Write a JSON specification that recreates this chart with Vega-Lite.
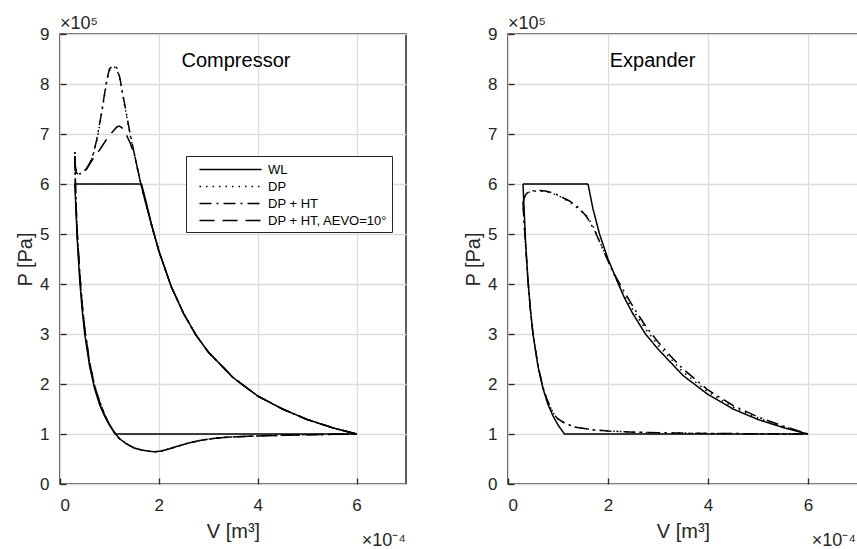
{
"$schema": "https://vega.github.io/schema/vega-lite/v6.json",
"background": "white",
"padding": {"left": 14, "top": 14, "right": 0, "bottom": 0},
"config": {
  "font": "Liberation Sans",
  "view": {"stroke": "#262626", "strokeWidth": 1.5},
  "axis": {"grid": true, "gridColor": "#dcdcdc", "gridWidth": 1.3, "domain": false, "ticks": true, "tickSize": -6, "tickColor": "#262626", "tickWidth": 1.3, "labelFont": "Liberation Sans", "labelFontSize": 17, "labelColor": "#262626", "titleFont": "Liberation Sans", "titleFontSize": 20, "titleFontWeight": "normal", "titleColor": "#262626"}
},
"datasets": {
"comp": [
{"s":"WL","V":6,"P":1},{"s":"WL","V":5.5,"P":1.13},{"s":"WL","V":5,"P":1.29},{"s":"WL","V":4.5,"P":1.5},{"s":"WL","V":4,"P":1.76},{"s":"WL","V":3.5,"P":2.13},{"s":"WL","V":3,"P":2.64},{"s":"WL","V":2.75,"P":2.98},{"s":"WL","V":2.5,"P":3.41},{"s":"WL","V":2.25,"P":3.95},{"s":"WL","V":2,"P":4.66},{"s":"WL","V":1.85,"P":5.19},{"s":"WL","V":1.75,"P":5.61},{"s":"WL","V":1.65,"P":6},{"s":"WL","V":0.3,"P":6},{"s":"WL","V":0.35,"P":4.87},{"s":"WL","V":0.4,"P":4.06},{"s":"WL","V":0.45,"P":3.47},{"s":"WL","V":0.5,"P":3},{"s":"WL","V":0.6,"P":2.35},{"s":"WL","V":0.7,"P":1.91},{"s":"WL","V":0.8,"P":1.59},{"s":"WL","V":0.9,"P":1.36},{"s":"WL","V":1,"P":1.18},{"s":"WL","V":1.12,"P":1},{"s":"WL","V":6,"P":1},

{"s":"DP","V":6,"P":1},{"s":"DP","V":5.5,"P":1.13},{"s":"DP","V":5,"P":1.29},{"s":"DP","V":4.5,"P":1.5},{"s":"DP","V":4,"P":1.76},{"s":"DP","V":3.5,"P":2.13},{"s":"DP","V":3,"P":2.64},{"s":"DP","V":2.75,"P":2.98},{"s":"DP","V":2.5,"P":3.41},{"s":"DP","V":2.25,"P":3.95},{"s":"DP","V":2,"P":4.66},{"s":"DP","V":1.85,"P":5.19},{"s":"DP","V":1.72,"P":5.67},{"s":"DP","V":1.62,"P":6.07},{"s":"DP","V":1.52,"P":6.52},{"s":"DP","V":1.42,"P":6.98},{"s":"DP","V":1.32,"P":7.5},{"s":"DP","V":1.21,"P":8.1},{"s":"DP","V":1.15,"P":8.3},{"s":"DP","V":1.1,"P":8.34},{"s":"DP","V":1.05,"P":8.33},{"s":"DP","V":1,"P":8.27},{"s":"DP","V":0.94,"P":8.02},{"s":"DP","V":0.88,"P":7.64},{"s":"DP","V":0.81,"P":7.22},{"s":"DP","V":0.74,"P":6.85},{"s":"DP","V":0.67,"P":6.58},{"s":"DP","V":0.61,"P":6.42},{"s":"DP","V":0.53,"P":6.29},{"s":"DP","V":0.45,"P":6.22},{"s":"DP","V":0.38,"P":6.2},{"s":"DP","V":0.33,"P":6.22},{"s":"DP","V":0.31,"P":6.35},{"s":"DP","V":0.3,"P":6.64},{"s":"DP","V":0.305,"P":6.3},{"s":"DP","V":0.32,"P":5.7},{"s":"DP","V":0.35,"P":5},{"s":"DP","V":0.4,"P":4.2},{"s":"DP","V":0.45,"P":3.58},{"s":"DP","V":0.5,"P":3.1},{"s":"DP","V":0.6,"P":2.42},{"s":"DP","V":0.7,"P":1.96},{"s":"DP","V":0.8,"P":1.65},{"s":"DP","V":0.9,"P":1.39},{"s":"DP","V":1,"P":1.19},{"s":"DP","V":1.1,"P":1.03},{"s":"DP","V":1.2,"P":0.91},{"s":"DP","V":1.35,"P":0.8},{"s":"DP","V":1.5,"P":0.72},{"s":"DP","V":1.65,"P":0.68},{"s":"DP","V":1.8,"P":0.655},{"s":"DP","V":1.92,"P":0.645},{"s":"DP","V":2.05,"P":0.66},{"s":"DP","V":2.2,"P":0.7},{"s":"DP","V":2.36,"P":0.75},{"s":"DP","V":2.6,"P":0.82},{"s":"DP","V":2.83,"P":0.87},{"s":"DP","V":3.1,"P":0.91},{"s":"DP","V":3.37,"P":0.935},{"s":"DP","V":3.7,"P":0.95},{"s":"DP","V":4,"P":0.962},{"s":"DP","V":4.5,"P":0.975},{"s":"DP","V":5,"P":0.985},{"s":"DP","V":5.5,"P":0.993},{"s":"DP","V":6,"P":1},

{"s":"DP + HT","V":6,"P":1},{"s":"DP + HT","V":5.5,"P":1.13},{"s":"DP + HT","V":5,"P":1.29},{"s":"DP + HT","V":4.5,"P":1.5},{"s":"DP + HT","V":4,"P":1.76},{"s":"DP + HT","V":3.5,"P":2.13},{"s":"DP + HT","V":3,"P":2.64},{"s":"DP + HT","V":2.75,"P":2.98},{"s":"DP + HT","V":2.5,"P":3.41},{"s":"DP + HT","V":2.25,"P":3.95},{"s":"DP + HT","V":2,"P":4.66},{"s":"DP + HT","V":1.85,"P":5.19},{"s":"DP + HT","V":1.72,"P":5.67},{"s":"DP + HT","V":1.62,"P":6.07},{"s":"DP + HT","V":1.52,"P":6.53},{"s":"DP + HT","V":1.42,"P":7},{"s":"DP + HT","V":1.32,"P":7.53},{"s":"DP + HT","V":1.21,"P":8.13},{"s":"DP + HT","V":1.15,"P":8.32},{"s":"DP + HT","V":1.1,"P":8.36},{"s":"DP + HT","V":1.05,"P":8.35},{"s":"DP + HT","V":1,"P":8.3},{"s":"DP + HT","V":0.94,"P":8.05},{"s":"DP + HT","V":0.88,"P":7.67},{"s":"DP + HT","V":0.81,"P":7.25},{"s":"DP + HT","V":0.74,"P":6.87},{"s":"DP + HT","V":0.67,"P":6.6},{"s":"DP + HT","V":0.61,"P":6.43},{"s":"DP + HT","V":0.53,"P":6.3},{"s":"DP + HT","V":0.45,"P":6.22},{"s":"DP + HT","V":0.38,"P":6.2},{"s":"DP + HT","V":0.33,"P":6.22},{"s":"DP + HT","V":0.31,"P":6.35},{"s":"DP + HT","V":0.3,"P":6.65},{"s":"DP + HT","V":0.305,"P":6.3},{"s":"DP + HT","V":0.32,"P":5.7},{"s":"DP + HT","V":0.35,"P":5},{"s":"DP + HT","V":0.4,"P":4.2},{"s":"DP + HT","V":0.45,"P":3.58},{"s":"DP + HT","V":0.5,"P":3.1},{"s":"DP + HT","V":0.6,"P":2.42},{"s":"DP + HT","V":0.7,"P":1.96},{"s":"DP + HT","V":0.8,"P":1.65},{"s":"DP + HT","V":0.9,"P":1.39},{"s":"DP + HT","V":1,"P":1.19},{"s":"DP + HT","V":1.1,"P":1.03},{"s":"DP + HT","V":1.2,"P":0.91},{"s":"DP + HT","V":1.35,"P":0.8},{"s":"DP + HT","V":1.5,"P":0.72},{"s":"DP + HT","V":1.65,"P":0.68},{"s":"DP + HT","V":1.8,"P":0.655},{"s":"DP + HT","V":1.92,"P":0.645},{"s":"DP + HT","V":2.05,"P":0.66},{"s":"DP + HT","V":2.2,"P":0.7},{"s":"DP + HT","V":2.36,"P":0.75},{"s":"DP + HT","V":2.6,"P":0.82},{"s":"DP + HT","V":2.83,"P":0.87},{"s":"DP + HT","V":3.1,"P":0.91},{"s":"DP + HT","V":3.37,"P":0.935},{"s":"DP + HT","V":3.7,"P":0.95},{"s":"DP + HT","V":4,"P":0.962},{"s":"DP + HT","V":4.5,"P":0.975},{"s":"DP + HT","V":5,"P":0.985},{"s":"DP + HT","V":5.5,"P":0.993},{"s":"DP + HT","V":6,"P":1},

{"s":"DP + HT, AEVO=10°","V":6,"P":1},{"s":"DP + HT, AEVO=10°","V":5.5,"P":1.13},{"s":"DP + HT, AEVO=10°","V":5,"P":1.29},{"s":"DP + HT, AEVO=10°","V":4.5,"P":1.5},{"s":"DP + HT, AEVO=10°","V":4,"P":1.76},{"s":"DP + HT, AEVO=10°","V":3.5,"P":2.13},{"s":"DP + HT, AEVO=10°","V":3,"P":2.64},{"s":"DP + HT, AEVO=10°","V":2.75,"P":2.98},{"s":"DP + HT, AEVO=10°","V":2.5,"P":3.41},{"s":"DP + HT, AEVO=10°","V":2.25,"P":3.95},{"s":"DP + HT, AEVO=10°","V":2,"P":4.66},{"s":"DP + HT, AEVO=10°","V":1.85,"P":5.19},{"s":"DP + HT, AEVO=10°","V":1.72,"P":5.67},{"s":"DP + HT, AEVO=10°","V":1.62,"P":6.07},{"s":"DP + HT, AEVO=10°","V":1.52,"P":6.53},{"s":"DP + HT, AEVO=10°","V":1.42,"P":6.82},{"s":"DP + HT, AEVO=10°","V":1.32,"P":7.03},{"s":"DP + HT, AEVO=10°","V":1.25,"P":7.13},{"s":"DP + HT, AEVO=10°","V":1.2,"P":7.16},{"s":"DP + HT, AEVO=10°","V":1.15,"P":7.14},{"s":"DP + HT, AEVO=10°","V":1.05,"P":7.03},{"s":"DP + HT, AEVO=10°","V":0.96,"P":6.92},{"s":"DP + HT, AEVO=10°","V":0.88,"P":6.8},{"s":"DP + HT, AEVO=10°","V":0.8,"P":6.68},{"s":"DP + HT, AEVO=10°","V":0.71,"P":6.57},{"s":"DP + HT, AEVO=10°","V":0.62,"P":6.43},{"s":"DP + HT, AEVO=10°","V":0.54,"P":6.3},{"s":"DP + HT, AEVO=10°","V":0.45,"P":6.22},{"s":"DP + HT, AEVO=10°","V":0.37,"P":6.2},{"s":"DP + HT, AEVO=10°","V":0.33,"P":6.22},{"s":"DP + HT, AEVO=10°","V":0.31,"P":6.35},{"s":"DP + HT, AEVO=10°","V":0.3,"P":6.6},{"s":"DP + HT, AEVO=10°","V":0.305,"P":6.3},{"s":"DP + HT, AEVO=10°","V":0.32,"P":5.7},{"s":"DP + HT, AEVO=10°","V":0.35,"P":5},{"s":"DP + HT, AEVO=10°","V":0.4,"P":4.2},{"s":"DP + HT, AEVO=10°","V":0.45,"P":3.58},{"s":"DP + HT, AEVO=10°","V":0.5,"P":3.1},{"s":"DP + HT, AEVO=10°","V":0.6,"P":2.42},{"s":"DP + HT, AEVO=10°","V":0.7,"P":1.96},{"s":"DP + HT, AEVO=10°","V":0.8,"P":1.65},{"s":"DP + HT, AEVO=10°","V":0.9,"P":1.39},{"s":"DP + HT, AEVO=10°","V":1,"P":1.19},{"s":"DP + HT, AEVO=10°","V":1.1,"P":1.03},{"s":"DP + HT, AEVO=10°","V":1.2,"P":0.91},{"s":"DP + HT, AEVO=10°","V":1.35,"P":0.8},{"s":"DP + HT, AEVO=10°","V":1.5,"P":0.72},{"s":"DP + HT, AEVO=10°","V":1.65,"P":0.68},{"s":"DP + HT, AEVO=10°","V":1.8,"P":0.655},{"s":"DP + HT, AEVO=10°","V":1.92,"P":0.645},{"s":"DP + HT, AEVO=10°","V":2.05,"P":0.66},{"s":"DP + HT, AEVO=10°","V":2.2,"P":0.7},{"s":"DP + HT, AEVO=10°","V":2.36,"P":0.75},{"s":"DP + HT, AEVO=10°","V":2.6,"P":0.82},{"s":"DP + HT, AEVO=10°","V":2.83,"P":0.87},{"s":"DP + HT, AEVO=10°","V":3.1,"P":0.91},{"s":"DP + HT, AEVO=10°","V":3.37,"P":0.935},{"s":"DP + HT, AEVO=10°","V":3.7,"P":0.95},{"s":"DP + HT, AEVO=10°","V":4,"P":0.962},{"s":"DP + HT, AEVO=10°","V":4.5,"P":0.975},{"s":"DP + HT, AEVO=10°","V":5,"P":0.985},{"s":"DP + HT, AEVO=10°","V":5.5,"P":0.993},{"s":"DP + HT, AEVO=10°","V":6,"P":1}
],
"exp": [
{"s":"WL","V":0.3,"P":6},{"s":"WL","V":1.6,"P":6},{"s":"WL","V":1.7,"P":5.5},{"s":"WL","V":1.83,"P":5},{"s":"WL","V":2,"P":4.5},{"s":"WL","V":2.2,"P":4.02},{"s":"WL","V":2.33,"P":3.72},{"s":"WL","V":2.5,"P":3.4},{"s":"WL","V":2.75,"P":3},{"s":"WL","V":3,"P":2.7},{"s":"WL","V":3.5,"P":2.17},{"s":"WL","V":4,"P":1.79},{"s":"WL","V":4.5,"P":1.5},{"s":"WL","V":5,"P":1.29},{"s":"WL","V":5.5,"P":1.13},{"s":"WL","V":6,"P":1},{"s":"WL","V":1.13,"P":1},{"s":"WL","V":1,"P":1.18},{"s":"WL","V":0.9,"P":1.36},{"s":"WL","V":0.8,"P":1.59},{"s":"WL","V":0.7,"P":1.91},{"s":"WL","V":0.6,"P":2.35},{"s":"WL","V":0.5,"P":3},{"s":"WL","V":0.45,"P":3.47},{"s":"WL","V":0.4,"P":4.06},{"s":"WL","V":0.35,"P":4.87},{"s":"WL","V":0.3,"P":6},

{"s":"DP","V":0.3,"P":5.6},{"s":"DP","V":0.33,"P":5.73},{"s":"DP","V":0.38,"P":5.81},{"s":"DP","V":0.45,"P":5.85},{"s":"DP","V":0.6,"P":5.86},{"s":"DP","V":0.75,"P":5.85},{"s":"DP","V":0.87,"P":5.82},{"s":"DP","V":1,"P":5.77},{"s":"DP","V":1.13,"P":5.7},{"s":"DP","V":1.23,"P":5.64},{"s":"DP","V":1.33,"P":5.57},{"s":"DP","V":1.42,"P":5.49},{"s":"DP","V":1.5,"P":5.42},{"s":"DP","V":1.57,"P":5.36},{"s":"DP","V":1.65,"P":5.24},{"s":"DP","V":1.72,"P":5.12},{"s":"DP","V":1.8,"P":4.93},{"s":"DP","V":1.93,"P":4.63},{"s":"DP","V":2.1,"P":4.23},{"s":"DP","V":2.3,"P":3.82},{"s":"DP","V":2.5,"P":3.48},{"s":"DP","V":2.75,"P":3.1},{"s":"DP","V":3,"P":2.78},{"s":"DP","V":3.5,"P":2.24},{"s":"DP","V":4,"P":1.84},{"s":"DP","V":4.5,"P":1.54},{"s":"DP","V":5,"P":1.32},{"s":"DP","V":5.5,"P":1.15},{"s":"DP","V":6,"P":1},{"s":"DP","V":5,"P":1.005},{"s":"DP","V":4,"P":1.012},{"s":"DP","V":3,"P":1.025},{"s":"DP","V":2.6,"P":1.035},{"s":"DP","V":2,"P":1.06},{"s":"DP","V":1.67,"P":1.085},{"s":"DP","V":1.33,"P":1.14},{"s":"DP","V":1.13,"P":1.22},{"s":"DP","V":1,"P":1.3},{"s":"DP","V":0.93,"P":1.38},{"s":"DP","V":0.87,"P":1.48},{"s":"DP","V":0.83,"P":1.58},{"s":"DP","V":0.77,"P":1.72},{"s":"DP","V":0.7,"P":1.93},{"s":"DP","V":0.6,"P":2.36},{"s":"DP","V":0.5,"P":3},{"s":"DP","V":0.45,"P":3.47},{"s":"DP","V":0.4,"P":4.06},{"s":"DP","V":0.35,"P":4.8},{"s":"DP","V":0.32,"P":5.25},{"s":"DP","V":0.3,"P":5.6},

{"s":"DP + HT","V":0.3,"P":5.62},{"s":"DP + HT","V":0.33,"P":5.75},{"s":"DP + HT","V":0.38,"P":5.82},{"s":"DP + HT","V":0.45,"P":5.86},{"s":"DP + HT","V":0.6,"P":5.87},{"s":"DP + HT","V":0.75,"P":5.86},{"s":"DP + HT","V":0.87,"P":5.83},{"s":"DP + HT","V":1,"P":5.78},{"s":"DP + HT","V":1.13,"P":5.71},{"s":"DP + HT","V":1.23,"P":5.66},{"s":"DP + HT","V":1.33,"P":5.59},{"s":"DP + HT","V":1.42,"P":5.52},{"s":"DP + HT","V":1.5,"P":5.43},{"s":"DP + HT","V":1.57,"P":5.35},{"s":"DP + HT","V":1.63,"P":5.25},{"s":"DP + HT","V":1.75,"P":5.03},{"s":"DP + HT","V":1.87,"P":4.76},{"s":"DP + HT","V":2,"P":4.46},{"s":"DP + HT","V":2.13,"P":4.19},{"s":"DP + HT","V":2.3,"P":3.89},{"s":"DP + HT","V":2.5,"P":3.55},{"s":"DP + HT","V":2.75,"P":3.16},{"s":"DP + HT","V":3,"P":2.84},{"s":"DP + HT","V":3.25,"P":2.56},{"s":"DP + HT","V":3.5,"P":2.3},{"s":"DP + HT","V":4,"P":1.88},{"s":"DP + HT","V":4.5,"P":1.57},{"s":"DP + HT","V":5,"P":1.34},{"s":"DP + HT","V":5.5,"P":1.16},{"s":"DP + HT","V":6,"P":1},{"s":"DP + HT","V":5,"P":1.005},{"s":"DP + HT","V":4,"P":1.012},{"s":"DP + HT","V":3,"P":1.025},{"s":"DP + HT","V":2.6,"P":1.035},{"s":"DP + HT","V":2,"P":1.06},{"s":"DP + HT","V":1.67,"P":1.085},{"s":"DP + HT","V":1.33,"P":1.14},{"s":"DP + HT","V":1.13,"P":1.22},{"s":"DP + HT","V":1,"P":1.3},{"s":"DP + HT","V":0.93,"P":1.38},{"s":"DP + HT","V":0.87,"P":1.48},{"s":"DP + HT","V":0.83,"P":1.58},{"s":"DP + HT","V":0.77,"P":1.72},{"s":"DP + HT","V":0.7,"P":1.93},{"s":"DP + HT","V":0.6,"P":2.36},{"s":"DP + HT","V":0.5,"P":3},{"s":"DP + HT","V":0.45,"P":3.47},{"s":"DP + HT","V":0.4,"P":4.06},{"s":"DP + HT","V":0.35,"P":4.8},{"s":"DP + HT","V":0.32,"P":5.25},{"s":"DP + HT","V":0.3,"P":5.62}
]
},
"spacing": 102,
"bounds": "flush",
"resolve": {"legend": {"strokeDash": "independent"}},
"hconcat": [
{
 "width": 346, "height": 450,
 "layer": [
  {"data": {"name": "comp"},
   "mark": {"type": "line", "color": "black", "strokeWidth": 1.5},
   "encoding": {
    "x": {"field": "V", "type": "quantitative", "scale": {"domain": [0, 7], "nice": false}, "axis": {"title": "V [m³]", "values": [0, 2, 4, 6], "labelPadding": 19, "titlePadding": 8}},
    "y": {"field": "P", "type": "quantitative", "scale": {"domain": [0, 9], "nice": false}, "axis": {"title": "P [Pa]", "values": [0,1,2,3,4,5,6,7,8,9], "labelPadding": 17, "titlePadding": 4}},
    "strokeDash": {"field": "s", "type": "nominal",
      "scale": {"domain": ["WL", "DP", "DP + HT", "DP + HT, AEVO=10°"], "range": [[1, 0], [1.5, 5], [12, 5, 2, 5], [15, 8]]},
      "legend": {"title": null, "orient": "none", "legendX": 126, "legendY": 122, "symbolType": "M0,0H7.3", "symbolSize": 289, "symbolStrokeWidth": 1.6, "symbolStrokeColor": "black", "labelFont": "Liberation Sans", "labelFontSize": 13, "labelColor": "black", "labelOffset": 59, "padding": 4, "rowPadding": 0, "strokeColor": "#262626", "fillColor": "white"}},
    "order": {"value": null}
   }},
  {"data": {"values": [{"V": 3.56, "P": 8.46, "t": "Compressor"}]},
   "mark": {"type": "text", "align": "center", "baseline": "middle", "fontSize": 20, "font": "Liberation Sans", "color": "black"},
   "encoding": {"x": {"field": "V", "type": "quantitative"}, "y": {"field": "P", "type": "quantitative"}, "text": {"field": "t"}}},
  {"data": {"values": [{"V": 0, "P": 9, "t": "×10⁵"}]},
   "mark": {"type": "text", "align": "left", "baseline": "alphabetic", "dy": -5, "fontSize": 18, "font": "Liberation Sans", "color": "#262626"},
   "encoding": {"x": {"field": "V", "type": "quantitative"}, "y": {"field": "P", "type": "quantitative"}, "text": {"field": "t"}}},
  {"data": {"values": [{"V": 7, "P": 0, "t": "×10⁻⁴"}]},
   "mark": {"type": "text", "align": "right", "baseline": "alphabetic", "dy": 62, "fontSize": 18, "font": "Liberation Sans", "color": "#262626"},
   "encoding": {"x": {"field": "V", "type": "quantitative"}, "y": {"field": "P", "type": "quantitative"}, "text": {"field": "t"}}}
 ]
},
{
 "width": 350, "height": 450,
 "layer": [
  {"data": {"name": "exp"},
   "mark": {"type": "line", "color": "black", "strokeWidth": 1.5},
   "encoding": {
    "x": {"field": "V", "type": "quantitative", "scale": {"domain": [0, 7], "nice": false}, "axis": {"title": "V [m³]", "values": [0, 2, 4, 6], "labelPadding": 19, "titlePadding": 8}},
    "y": {"field": "P", "type": "quantitative", "scale": {"domain": [0, 9], "nice": false}, "axis": {"title": "P [Pa]", "values": [0,1,2,3,4,5,6,7,8,9], "labelPadding": 17, "titlePadding": 4}},
    "strokeDash": {"field": "s", "type": "nominal",
      "scale": {"domain": ["WL", "DP", "DP + HT", "DP + HT, AEVO=10°"], "range": [[1, 0], [1.5, 5], [12, 5, 2, 5], [15, 8]]},
      "legend": null},
    "order": {"value": null}
   }},
  {"data": {"values": [{"V": 2.89, "P": 8.46, "t": "Expander"}]},
   "mark": {"type": "text", "align": "center", "baseline": "middle", "fontSize": 20, "font": "Liberation Sans", "color": "black"},
   "encoding": {"x": {"field": "V", "type": "quantitative"}, "y": {"field": "P", "type": "quantitative"}, "text": {"field": "t"}}},
  {"data": {"values": [{"V": 0, "P": 9, "t": "×10⁵"}]},
   "mark": {"type": "text", "align": "left", "baseline": "alphabetic", "dy": -5, "fontSize": 18, "font": "Liberation Sans", "color": "#262626"},
   "encoding": {"x": {"field": "V", "type": "quantitative"}, "y": {"field": "P", "type": "quantitative"}, "text": {"field": "t"}}},
  {"data": {"values": [{"V": 7, "P": 0, "t": "×10⁻⁴"}]},
   "mark": {"type": "text", "align": "right", "baseline": "alphabetic", "dx": -2, "dy": 62, "fontSize": 18, "font": "Liberation Sans", "color": "#262626"},
   "encoding": {"x": {"field": "V", "type": "quantitative"}, "y": {"field": "P", "type": "quantitative"}, "text": {"field": "t"}}}
 ]
}
]
}
